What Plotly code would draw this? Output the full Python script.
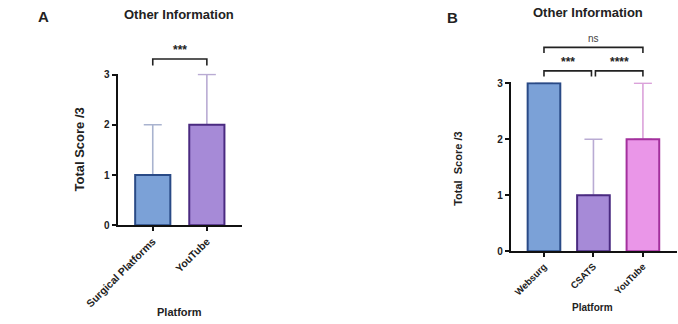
import plotly.graph_objects as go

# ---- data ----
cats_a = ["Surgical Platforms", "YouTube"]
vals_a = [1, 2]
err_a = [1, 1]

cats_b = ["Websurg", "CSATS", "YouTube"]
vals_b = [3, 1, 2]
err_b = [0, 1, 1]

yticks = [0, 1, 2, 3]

fill_a = ["#7ba1d7", "#a68ad7"]
line_a = ["#294a86", "#4a2a80"]
errc_a = ["#a9b3cf", "#b9abd3"]

fill_b = ["#7ba1d7", "#a68ad7", "#ea96e8"]
line_b = ["#294a86", "#4a2a80", "#a3309d"]
errc_b = ["#a9b3cf", "#b9abd3", "#dba2da"]

W, H = 678, 324
FONT = "Liberation Sans"

fig = go.Figure()


def add_bars(cats, vals, errs, fills, lines, errcs, width, xa, ya):
    # error bars first (underneath), then bars on top
    for i, c in enumerate(cats):
        fig.add_trace(go.Bar(
            x=[c], y=[vals[i]], width=width,
            marker=dict(color="rgba(0,0,0,0)", line=dict(width=0)),
            error_y=dict(type="data", symmetric=False, array=[errs[i]], arrayminus=[0],
                         color=errcs[i], thickness=1.6, width=9),
            xaxis=xa, yaxis=ya, showlegend=False, hoverinfo="skip"))
    for i, c in enumerate(cats):
        fig.add_trace(go.Bar(
            x=[c], y=[vals[i]], width=width,
            marker=dict(color=fills[i], line=dict(color=lines[i], width=2)),
            xaxis=xa, yaxis=ya, showlegend=False))


add_bars(cats_a, vals_a, err_a, fill_a, line_a, errc_a, 0.65, "x", "y")
add_bars(cats_b, vals_b, err_b, fill_b, line_b, errc_b, 0.66, "x2", "y2")


def px(x):
    return x / W


def py(y):
    return 1 - y / H


ya_dom = [py(228), py(71)]
yb_dom = [py(255), py(80)]
ya_range = [0, 3 + 1 / 52]
yb_range = [0, 3 + 1 / 58]

axis_common = dict(showgrid=False, zeroline=False, showline=True, linecolor="#111",
                   linewidth=2, ticks="outside", ticklen=4, tickwidth=1.5, tickcolor="#111",
                   tickfont=dict(family=FONT, size=10, color="#222", weight="bold"))

fig.update_layout(
    width=W, height=H, margin=dict(l=0, r=0, t=0, b=0),
    plot_bgcolor="white", paper_bgcolor="white",
    barmode="overlay",
    xaxis=dict(domain=[px(88), px(219)], anchor="y", range=[-0.65, 1.65],
               tickangle=-45, categoryorder="array", categoryarray=cats_a, **axis_common),
    yaxis=dict(domain=ya_dom, anchor="x", range=ya_range, tickvals=yticks, **axis_common),
    xaxis2=dict(domain=[px(502), px(677)], anchor="y2", range=[-0.67, 2.69],
                tickangle=-45, categoryorder="array", categoryarray=cats_b, **axis_common),
    yaxis2=dict(domain=yb_dom, anchor="x2", range=yb_range, tickvals=yticks, **axis_common),
)
fig.update_layout(xaxis_tickfont=dict(family=FONT, size=10.5, color="#222", weight="bold"),
                  xaxis2_tickfont=dict(family=FONT, size=9.5, color="#222", weight="bold"))


def ypaper(val, dom, rng):
    return dom[0] + (val - rng[0]) / (rng[1] - rng[0]) * (dom[1] - dom[0])


def bracket(xref, x0, x1, yv, drop, dom, rng, text, tsize=12, tdy=0.0, bold=True, color="#222"):
    yt = ypaper(yv, dom, rng)
    yb = ypaper(yv - drop, dom, rng)
    fig.add_shape(type="path", xref=xref, yref="paper",
                  path=f"M {x0},{yb} L {x0},{yt} L {x1},{yt} L {x1},{yb}",
                  line=dict(color="#222", width=1.6))
    fig.add_annotation(xref=xref, yref="paper", x=(x0 + x1) / 2,
                       y=yt, text=text, showarrow=False, yanchor="bottom", yshift=tdy,
                       font=dict(family=FONT, size=tsize, color=color,
                                 weight="bold" if bold else "normal"))


bracket("x", 0, 1, 3.31, 0.13, ya_dom, ya_range, "***", 12, 0)
bracket("x2", 0, 2, 3.64, 0.1, yb_dom, yb_range, "ns", 10, 1, bold=False, color="#444")
bracket("x2", 0, 0.96, 3.22, 0.1, yb_dom, yb_range, "***", 12, 0)
bracket("x2", 1.04, 2, 3.22, 0.1, yb_dom, yb_range, "****", 12, 0)


def ann(x, y, text, size, angle=0, color="#222"):
    fig.add_annotation(xref="paper", yref="paper", x=px(x), y=py(y), text=text,
                       showarrow=False, textangle=angle, xanchor="center", yanchor="middle",
                       font=dict(family=FONT, size=size, color=color, weight="bold"))


ann(10, 12, "A", 15)
ann(153, 10, "Other Information", 13)
ann(48, 150, "Total Score /3", 13, -90)
ann(153, 318, "Platform", 11)

ann(441, 13, "B", 15)
ann(583, 8, "Other Information", 13)
ann(447, 170, "Total  Score /3", 11, -90)
ann(588, 313, "Platform", 10)

fig.write_html("out.html")
